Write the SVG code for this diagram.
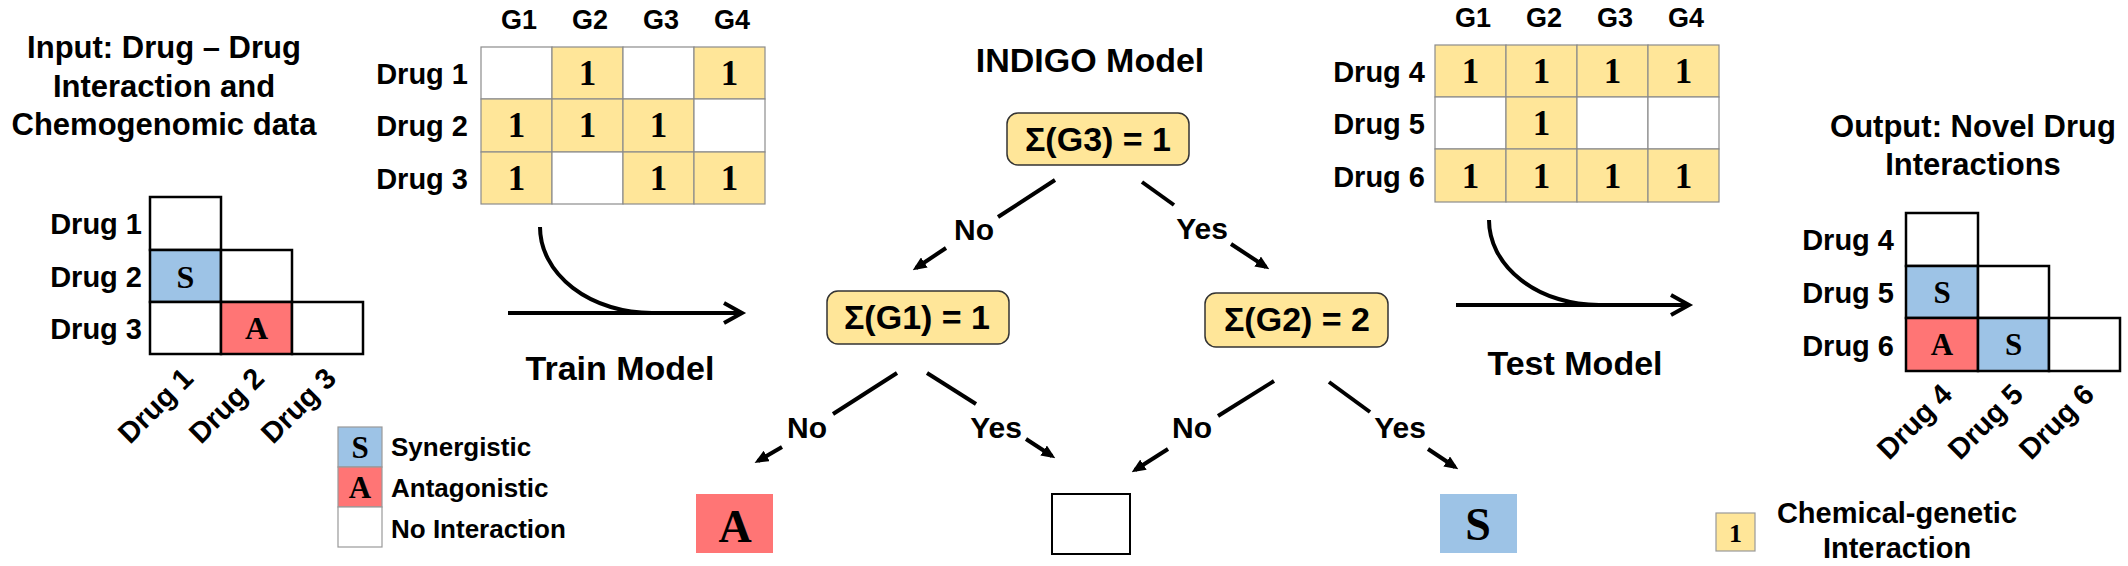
<svg xmlns="http://www.w3.org/2000/svg" width="2128" height="566" viewBox="0 0 2128 566">
<style>
.t{font-family:"Liberation Sans",Arial,sans-serif;font-weight:bold;fill:#000}
.s{font-family:"Liberation Serif","Times New Roman",serif;font-weight:bold;fill:#000;text-anchor:middle}
.m{text-anchor:middle}
.e{text-anchor:end}
.y{fill:#FFE699;stroke:#8c8c8c;stroke-width:1.2}
.w{fill:#fff;stroke:#8c8c8c;stroke-width:1.2}
.ib{fill:#fff;stroke:#000;stroke-width:2.5}
.ibS{fill:#9DC3E6;stroke:#000;stroke-width:2.5}
.ibA{fill:#FF7575;stroke:#000;stroke-width:2.5}
.node{fill:#FFE699;stroke:#333;stroke-width:1.5}
.ln{stroke:#000;stroke-width:4;fill:none}
</style>
<defs>
<marker id="ah" viewBox="0 0 14 12" refX="10" refY="6" markerWidth="14" markerHeight="12" markerUnits="userSpaceOnUse" orient="auto"><path d="M0,0 L14,6 L0,12 z" fill="#000"/></marker>
</defs>

<g id="input-title" class="t" font-size="31">
<text class="t m" x="164" y="58">Input: Drug – Drug</text>
<text class="t m" x="164" y="97">Interaction and</text>
<text class="t m" x="164" y="135">Chemogenomic data</text>
</g>

<g id="input-matrix">
<rect class="ib" x="150" y="197" width="71" height="53"/>
<rect class="ibS" x="150" y="250" width="71" height="52"/>
<rect class="ib" x="221" y="250" width="71" height="52"/>
<rect class="ib" x="150" y="302" width="71" height="52"/>
<rect class="ibA" x="221" y="302" width="71" height="52"/>
<rect class="ib" x="292" y="302" width="71" height="52"/>
<text class="s" x="185.5" y="288" font-size="32">S</text>
<text class="s" x="256.5" y="339" font-size="32">A</text>
<g class="t e" font-size="29">
<text class="t e" x="142" y="234">Drug 1</text>
<text class="t e" x="142" y="287">Drug 2</text>
<text class="t e" x="142" y="339">Drug 3</text>
<text class="t e" transform="translate(195,380) rotate(-45)">Drug 1</text>
<text class="t e" transform="translate(266,380) rotate(-45)">Drug 2</text>
<text class="t e" transform="translate(338,380) rotate(-45)">Drug 3</text>
</g>
</g>

<g id="legend-interaction">
<rect x="338" y="427" width="44" height="40" fill="#9DC3E6" stroke="#999" stroke-width="1.2"/>
<rect x="338" y="467" width="44" height="40" fill="#FF7575" stroke="#999" stroke-width="1.2"/>
<rect x="338" y="507" width="44" height="40" fill="#fff" stroke="#999" stroke-width="1.2"/>
<text class="s" x="360" y="458" font-size="31">S</text>
<text class="s" x="360" y="498" font-size="31">A</text>
<text class="t" x="391" y="456" font-size="26">Synergistic</text>
<text class="t" x="391" y="497" font-size="26">Antagonistic</text>
<text class="t" x="391" y="538" font-size="26">No Interaction</text>
</g>

<g id="train-matrix">
<text class="t m" x="519" y="29" font-size="27">G1</text>
<text class="t m" x="590" y="29" font-size="27">G2</text>
<text class="t m" x="661" y="29" font-size="27">G3</text>
<text class="t m" x="732" y="29" font-size="27">G4</text>
<text class="t e" x="468" y="84" font-size="29">Drug 1</text>
<text class="t e" x="468" y="136" font-size="29">Drug 2</text>
<text class="t e" x="468" y="189" font-size="29">Drug 3</text>
<rect class="w" x="481" y="47" width="71" height="52"/>
<rect class="y" x="552" y="47" width="71" height="52"/>
<rect class="w" x="623" y="47" width="71" height="52"/>
<rect class="y" x="694" y="47" width="71" height="52"/>
<rect class="y" x="481" y="99" width="71" height="53"/>
<rect class="y" x="552" y="99" width="71" height="53"/>
<rect class="y" x="623" y="99" width="71" height="53"/>
<rect class="w" x="694" y="99" width="71" height="53"/>
<rect class="y" x="481" y="152" width="71" height="52"/>
<rect class="w" x="552" y="152" width="71" height="52"/>
<rect class="y" x="623" y="152" width="71" height="52"/>
<rect class="y" x="694" y="152" width="71" height="52"/>
<g class="s" font-size="35">
<text class="s" x="587.5" y="85">1</text>
<text class="s" x="729.5" y="85">1</text>
<text class="s" x="516.5" y="137">1</text>
<text class="s" x="587.5" y="137">1</text>
<text class="s" x="658.5" y="137">1</text>
<text class="s" x="516.5" y="190">1</text>
<text class="s" x="658.5" y="190">1</text>
<text class="s" x="729.5" y="190">1</text>
</g>
</g>

<g id="train-step">
<path class="ln" d="M540,227 A112 86 0 0 0 652,313"/>
<path class="ln" d="M508,313 L740,313"/>
<path class="ln" d="M724,303 L742,313 L724,323"/>
<text class="t m" x="620" y="380" font-size="34">Train Model</text>
</g>

<g id="model-title">
<text class="t m" x="1090" y="72" font-size="34">INDIGO Model</text>
</g>

<g id="node-g3">
<rect class="node" x="1007" y="113" width="182" height="52" rx="11"/>
<text class="t m" x="1098" y="151" font-size="34">Σ(G3) = 1</text>
</g>
<g id="node-g1">
<rect class="node" x="827" y="291" width="182" height="53" rx="11"/>
<text class="t m" x="917" y="329" font-size="34">Σ(G1) = 1</text>
</g>
<g id="node-g2">
<rect class="node" x="1205" y="293" width="183" height="54" rx="11"/>
<text class="t m" x="1297" y="331" font-size="34">Σ(G2) = 2</text>
</g>
<g id="leaf-a">
<rect x="696" y="494" width="77" height="59" fill="#FF7575"/>
<text class="s" x="735" y="542" font-size="46">A</text>
</g>
<g id="leaf-none">
<rect x="1052" y="494" width="78" height="60" fill="#fff" stroke="#000" stroke-width="2"/>
</g>
<g id="leaf-s">
<rect x="1440" y="494" width="77" height="59" fill="#9DC3E6"/>
<text class="s" x="1478" y="540" font-size="46">S</text>
</g>

<g id="connectors">
<path class="ln" d="M1055,180 L998,217"/>
<path class="ln" d="M946,248 L916,268" marker-end="url(#ah)"/>
<path class="ln" d="M1142,182 L1174,205"/>
<path class="ln" d="M1231,244 L1266,267" marker-end="url(#ah)"/>
<path class="ln" d="M897,373 L833,414"/>
<path class="ln" d="M782,447 L758,461" marker-end="url(#ah)"/>
<path class="ln" d="M927,373 L976,404"/>
<path class="ln" d="M1026,439 L1052,456" marker-end="url(#ah)"/>
<path class="ln" d="M1274,381 L1218,416"/>
<path class="ln" d="M1168,449 L1135,470" marker-end="url(#ah)"/>
<path class="ln" d="M1329,382 L1370,412"/>
<path class="ln" d="M1428,449 L1455,467" marker-end="url(#ah)"/>
<g font-size="30">
<text class="t m" x="974" y="240">No</text>
<text class="t m" x="1202" y="239">Yes</text>
<text class="t m" x="807" y="438">No</text>
<text class="t m" x="996" y="438">Yes</text>
<text class="t m" x="1192" y="438">No</text>
<text class="t m" x="1400" y="438">Yes</text>
</g>
</g>

<g id="test-matrix">
<text class="t m" x="1473" y="27" font-size="27">G1</text>
<text class="t m" x="1544" y="27" font-size="27">G2</text>
<text class="t m" x="1615" y="27" font-size="27">G3</text>
<text class="t m" x="1686" y="27" font-size="27">G4</text>
<text class="t e" x="1425" y="82" font-size="29">Drug 4</text>
<text class="t e" x="1425" y="134" font-size="29">Drug 5</text>
<text class="t e" x="1425" y="187" font-size="29">Drug 6</text>
<rect class="y" x="1435" y="45" width="71" height="52"/>
<rect class="y" x="1506" y="45" width="71" height="52"/>
<rect class="y" x="1577" y="45" width="71" height="52"/>
<rect class="y" x="1648" y="45" width="71" height="52"/>
<rect class="w" x="1435" y="97" width="71" height="52"/>
<rect class="y" x="1506" y="97" width="71" height="52"/>
<rect class="w" x="1577" y="97" width="71" height="52"/>
<rect class="w" x="1648" y="97" width="71" height="52"/>
<rect class="y" x="1435" y="149" width="71" height="53"/>
<rect class="y" x="1506" y="149" width="71" height="53"/>
<rect class="y" x="1577" y="149" width="71" height="53"/>
<rect class="y" x="1648" y="149" width="71" height="53"/>
<g class="s" font-size="35">
<text class="s" x="1470.5" y="83">1</text>
<text class="s" x="1541.5" y="83">1</text>
<text class="s" x="1612.5" y="83">1</text>
<text class="s" x="1683.5" y="83">1</text>
<text class="s" x="1541.5" y="135">1</text>
<text class="s" x="1470.5" y="188">1</text>
<text class="s" x="1541.5" y="188">1</text>
<text class="s" x="1612.5" y="188">1</text>
<text class="s" x="1683.5" y="188">1</text>
</g>
</g>

<g id="test-step">
<path class="ln" d="M1489,220 A110 85 0 0 0 1599,305"/>
<path class="ln" d="M1456,305 L1687,305"/>
<path class="ln" d="M1671,295 L1689,305 L1671,315"/>
<text class="t m" x="1575" y="375" font-size="34">Test Model</text>
</g>

<g id="output-title">
<text class="t m" x="1973" y="137" font-size="31">Output: Novel Drug</text>
<text class="t m" x="1973" y="175" font-size="31">Interactions</text>
</g>

<g id="output-matrix">
<rect class="ib" x="1906" y="213" width="72" height="53"/>
<rect class="ibS" x="1906" y="266" width="72" height="52"/>
<rect class="ib" x="1978" y="266" width="71" height="52"/>
<rect class="ibA" x="1906" y="318" width="72" height="53"/>
<rect class="ibS" x="1978" y="318" width="71" height="53"/>
<rect class="ib" x="2049" y="318" width="71" height="53"/>
<text class="s" x="1942" y="303" font-size="31">S</text>
<text class="s" x="1942" y="355" font-size="31">A</text>
<text class="s" x="2013.5" y="355" font-size="31">S</text>
<text class="t e" x="1894" y="250" font-size="29">Drug 4</text>
<text class="t e" x="1894" y="303" font-size="29">Drug 5</text>
<text class="t e" x="1894" y="356" font-size="29">Drug 6</text>
<text class="t e" font-size="29" transform="translate(1954,396) rotate(-45)">Drug 4</text>
<text class="t e" font-size="29" transform="translate(2025,396) rotate(-45)">Drug 5</text>
<text class="t e" font-size="29" transform="translate(2096,396) rotate(-45)">Drug 6</text>
</g>

<g id="legend-chemgen">
<rect x="1716" y="513" width="39" height="38" fill="#FFE699" stroke="#999" stroke-width="1.2"/>
<text class="s" x="1735.5" y="542" font-size="26">1</text>
<text class="t m" x="1897" y="523" font-size="29">Chemical-genetic</text>
<text class="t m" x="1897" y="558" font-size="29">Interaction</text>
</g>
</svg>
